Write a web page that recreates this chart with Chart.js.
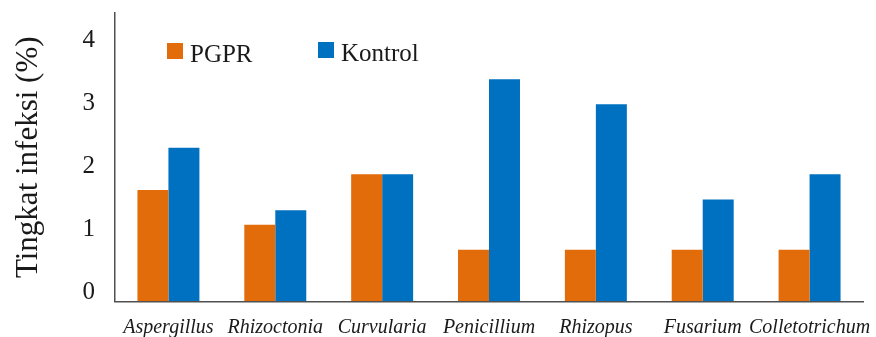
<!DOCTYPE html>
<html>
<head>
<meta charset="utf-8">
<script src="https://cdn.jsdelivr.net/npm/chart.js@4.4.1/dist/chart.umd.min.js"></script>
<style>
  html, body { margin: 0; padding: 0; background: #ffffff; }
  #wrap { width: 876px; height: 337px; }
</style>
</head>
<body>
<div id="wrap"><canvas id="c" width="876" height="337"></canvas></div>
<script>
// Fungal genera tested
const categories = ['Aspergillus', 'Rhizoctonia', 'Curvularia', 'Penicillium', 'Rhizopus', 'Fusarium', 'Colletotrichum'];
// Infection level (%) per treatment
const pgprValues    = [1.77, 1.22, 2.02, 0.82, 0.82, 0.82, 0.82];
const kontrolValues = [2.44, 1.45, 2.02, 3.53, 3.13, 1.62, 2.02];
const seriesNames = ['PGPR', 'Kontrol'];
const yTickValues = [0, 1, 2, 3, 4];

const SERIF = '"Liberation Serif", "Times New Roman", serif';

// Legend drawn inside the plot area, one box + label per dataset
const innerLegend = {
  id: 'innerLegend',
  afterDraw(chart, args, opts) {
    const { ctx, chartArea } = chart;
    ctx.save();
    ctx.font = opts.font;
    ctx.textBaseline = 'alphabetic';
    ctx.textAlign = 'left';
    chart.data.datasets.forEach((ds, i) => {
      const p = opts.items[i];
      const x = chartArea.left + p.dx;
      const y = chartArea.top + p.dy;
      ctx.fillStyle = ds.backgroundColor;
      ctx.fillRect(x, y, opts.box, opts.box);
      ctx.fillStyle = opts.color;
      ctx.fillText(ds.label, x + opts.box + opts.gap, y + opts.baseline);
    });
    ctx.restore();
  }
};

// Keep the plot area fixed: no extra room reserved for overhanging labels
function noOverhang(scale) {
  scale.paddingTop = 0;
  scale.paddingBottom = 0;
  scale.paddingLeft = 0;
  scale.paddingRight = 0;
}

new Chart(document.getElementById('c'), {
  type: 'bar',
  data: {
    labels: categories,
    datasets: [
      { label: seriesNames[0], data: pgprValues, backgroundColor: '#E36C0A' },
      { label: seriesNames[1], data: kontrolValues, backgroundColor: '#0070C0' }
    ]
  },
  plugins: [innerLegend],
  options: {
    responsive: false,
    devicePixelRatio: 1,
    animation: false,
    layout: { padding: { top: 13, right: 13, left: 0, bottom: 0 } },
    datasets: {
      bar: { categoryPercentage: 0.58, barPercentage: 1.0, borderWidth: 0 }
    },
    scales: {
      x: {
        grid: { drawOnChartArea: false, drawTicks: false },
        border: { color: '#505050', width: 1.5 },
        ticks: {
          color: '#1a1a1a',
          padding: 14,
          maxRotation: 0,
          autoSkip: false,
          font: { family: SERIF, size: 20, style: 'italic' }
        },
        afterFit(scale) { scale.height = 35.5; noOverhang(scale); }
      },
      y: {
        min: 0,
        max: 4.58,
        grid: { drawOnChartArea: false, drawTicks: false },
        border: { color: '#505050', width: 1.5 },
        afterBuildTicks(scale) { scale.ticks = yTickValues.map(v => ({ value: v })); },
        ticks: {
          color: '#1a1a1a',
          padding: 20,
          labelOffset: -9.5,
          font: { family: SERIF, size: 25 }
        },
        title: {
          display: true,
          text: 'Tingkat infeksi (%)',
          color: '#1a1a1a',
          padding: { top: 10, bottom: 0 },
          font: { family: SERIF, size: 31 }
        },
        afterFit(scale) { scale.width = 115; noOverhang(scale); }
      }
    },
    plugins: {
      legend: { display: false },
      tooltip: { enabled: false },
      innerLegend: {
        items: [{ dx: 52, dy: 30 }, { dx: 203, dy: 29 }],
        box: 16,
        gap: 7,
        baseline: 19,
        color: '#1a1a1a',
        font: '25px ' + SERIF
      }
    }
  }
});
</script>
</body>
</html>
